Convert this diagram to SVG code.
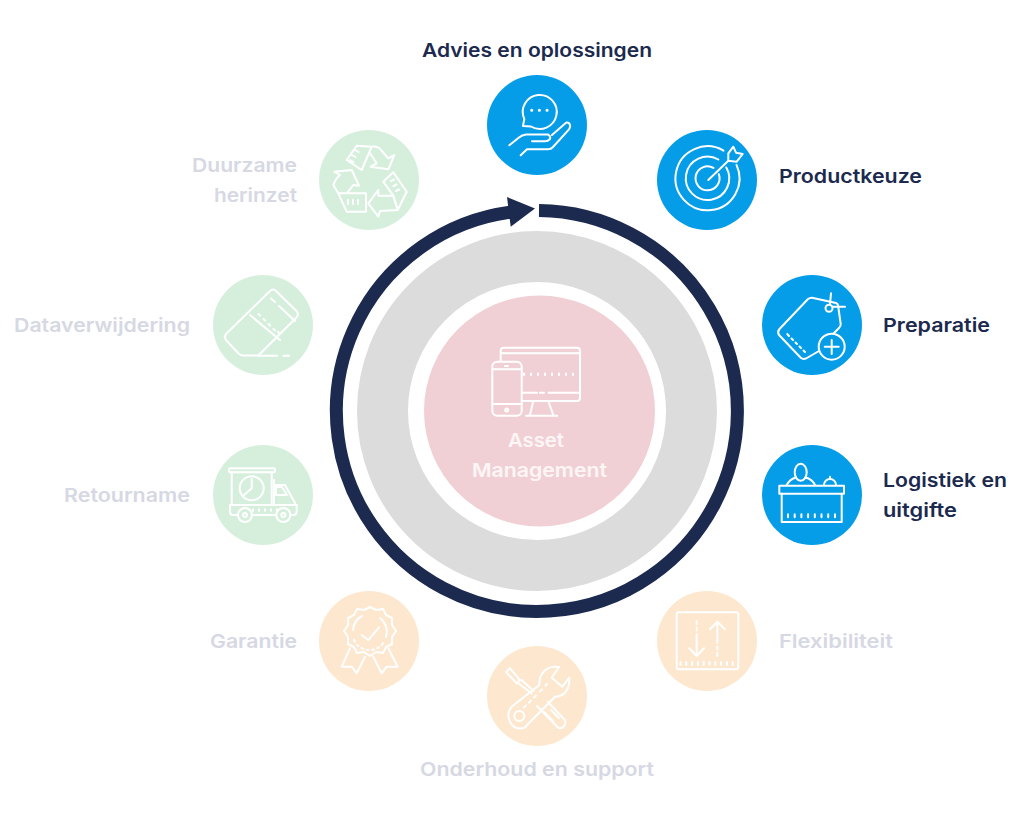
<svg xmlns="http://www.w3.org/2000/svg" width="1024" height="819" viewBox="0 0 1024 819">
<style>
.t{font-family:"Inter","Liberation Sans",sans-serif;font-weight:600;font-size:19px}
.d{fill:#1b2a4e}.f{fill:#d6d8e3}.w{fill:#fdf6f7}
.i{fill:none;stroke:#fff;stroke-width:2;stroke-linecap:round;stroke-linejoin:round}
.k{stroke-linecap:butt;stroke-width:3}
.b{fill:#069de8}.g{fill:#d6efdd}.o{fill:#fde8cf}
</style>
<rect width="1024" height="819" fill="#fff"/>
<g id="hub">
<circle cx="537" cy="411" r="154.500" fill="none" stroke="#dcdcdc" stroke-width="51"/>
<circle cx="539.500" cy="411" r="115.500" fill="#f1d0d5"/>
<g class="i">
<path d="M500.700 361V350.700a3 3 0 0 1 3-3H577a3 3 0 0 1 3 3V398a3 3 0 0 1-3 3H522M500.700 353.300H580"/>
<path class="k" d="M523 374.300H578" stroke-dasharray="2 5"/>
<path d="M522 392.700H537M540 392.700H544M548.500 392.700H580M533.300 401L530 415M548.300 401L553.300 415M526 415.700H557.300"/>
<rect x="492.300" y="361.700" width="29.400" height="54" rx="5"/>
<path d="M492.300 369.300H521.700M492.300 404H521.700M505 366H508"/>
<circle cx="506.700" cy="410" r="1.500"/>
</g>
<text class="t w" x="508" y="447" textLength="56" lengthAdjust="spacingAndGlyphs">Asset</text>
<text class="t w" x="472" y="477" textLength="135" lengthAdjust="spacingAndGlyphs">Management</text>
</g>
<g id="connectors">
<path d="M539 210.500A200.500 200.500 0 1 1 510 212.300" fill="none" stroke="#1b2a4e" stroke-width="13"/>
<path d="M535 208.500L507 197L510.700 226.700Z" fill="#1b2a4e"/>
</g>
<g id="advies">
<circle class="b" cx="537" cy="125" r="50"/>
<g class="i">
<path d="M523 126L524.300 119A17 17 0 1 1 531 126.500Z"/>
<path d="M531.700 110.300h.1M539.300 110.300h.1M547 110.300h.1" stroke-width="3"/>
<path d="M509.300 145.300L519 137.500Q522 135 526 134.500H548Q551 136 550 139Q548 141.300 545 141.300H532M552 135L566 122.700Q569 122 570 125Q570.500 127 569 129.300L553 147Q551 149.300 548 149.300H527L520.700 155.300"/>
</g>
<text class="t d" x="422" y="57" textLength="230" lengthAdjust="spacingAndGlyphs">Advies en oplossingen</text>
</g>
<g id="productkeuze">
<circle class="b" cx="707" cy="180" r="50"/>
<g class="i">
<path d="M723.500 150.600A32 32 0 1 0 736.500 164.800"/>
<path d="M718.350 159.500A21.700 21.700 0 1 0 726.300 167.450"/>
<path d="M713.500 167.900A12 12 0 1 0 718.800 174.200"/>
<path d="M708.300 180L728.300 160.700M728.300 160.700L728.300 153.300L733.300 146.700L736 152.700L742.700 154L736.700 161.700Z"/>
</g>
<text class="t d" x="779" y="183" textLength="143" lengthAdjust="spacingAndGlyphs">Productkeuze</text>
</g>
<g id="preparatie">
<circle class="b" cx="812" cy="325" r="50"/>
<g class="i">
<path d="M819 351L806 358.500Q803 359.500 801 358L779 335Q777 332 779.500 329L808 299Q810 297.500 812 297.700L836 303Q837.500 303.500 838 305L840.700 324Q841 326 839 328L833 334"/>
<circle cx="829" cy="308.300" r="3.500"/>
<path d="M831 293.300L830 304M833 306.700H845"/>
<path d="M787.300 334L789 336M791.500 338.500L793 340M795.500 342.500L797 344M799.500 346.500L801 348M803.500 350.500L805 352"/>
<circle cx="831.700" cy="346.700" r="13" fill="#069de8"/>
<path d="M831.700 340V354M824.700 346.700H838.700"/>
</g>
<text class="t d" x="883" y="332" textLength="107" lengthAdjust="spacingAndGlyphs">Preparatie</text>
</g>
<g id="logistiek">
<circle class="b" cx="812" cy="495" r="50"/>
<g class="i">
<ellipse cx="800.700" cy="472.300" rx="6" ry="8.500"/>
<path d="M786.700 485Q790 479 796 477.500M805.500 477.500Q812 479 815 485M824 485A6 6 0 0 1 836 485M830 479V476.700"/>
<rect x="779.300" y="485.700" width="64.700" height="8"/>
<path d="M781.700 493.700V522H841.700V493.700"/>
<path d="M788 514.200V517.200M794.700 514.200V517.200M801.400 514.200V517.200M808.100 514.200V517.200M814.800 514.200V517.200M821.500 514.200V517.200M828.200 514.200V517.200M835 514.200V517.200"/>
</g>
<g><text class="t d" x="883" y="487" textLength="124" lengthAdjust="spacingAndGlyphs">Logistiek en</text>
<text class="t d" x="883" y="517" textLength="74" lengthAdjust="spacingAndGlyphs">uitgifte</text></g>
</g>
<g id="flexibiliteit">
<circle class="o" cx="707" cy="641" r="50"/>
<g class="i">
<rect x="676.700" y="612.300" width="61.600" height="57" rx="2"/>
<path d="M680.500 662V665M686.300 662V665M692.100 662V665M697.900 662V665M703.700 662V665M709.500 662V665M715.300 662V665M721.100 662V665M726.900 662V665M732.700 662V665"/>
<path d="M696.700 621V637" stroke-dasharray="3 3.500"/>
<path d="M696.700 637V656M689.300 648.300L696.700 656L704 648.300"/>
<path d="M717.300 621.700V640M710 629.300L717.300 621.700L725 629.300"/>
<path d="M717.300 640V656" stroke-dasharray="3 3.500"/>
</g>
<text class="t f" x="779" y="648" textLength="114" lengthAdjust="spacingAndGlyphs">Flexibiliteit</text>
</g>
<g id="onderhoud">
<circle class="o" cx="537" cy="696" r="50"/>
<g class="i">
<path d="M559 667C548 665 539 672 539.300 685L511.700 706.700C504 716 511 729 521 728.500C524 728.300 526 727 527 725L555 696.700C565 697 570 688 569.300 677.700L562.300 686.700L551.700 677.700Z"/>
<circle cx="519.300" cy="716" r="5"/>
<path d="M506 672L510 668.300L520 680L516.700 683.300ZM518 683L531.700 693.500M521.700 680L533.500 691M537 706L558 727.500Q561 729.500 564 726Q566.500 723 564.500 719.500L548 702"/>
<path d="M551 710L559 718M544 712L553 721"/>
<path d="M524 707.500L526 705.500M529 702.500L531 700.500M534 697.500L536 695.500M540 691.500L542 689.500M545.500 685.500L547 684"/>
</g>
<text class="t f" x="420" y="776" textLength="234" lengthAdjust="spacingAndGlyphs">Onderhoud en support</text>
</g>
<g id="garantie">
<circle class="o" cx="369" cy="641" r="50"/>
<g class="i">
<path d="M370 607L376 610L383 609L386 615L392 618L392 625L396 631L392 637L392 644L386 647L383 653L376 652L370 656L364 652L357 653L354 647L348 644L348 637L344 631L348 625L348 618L354 615L357 609L364 610Z"/>
<path d="M380 618A17 17 0 0 1 386 637" />
<path d="M362 616A17 17 0 0 0 353 630"/>
<path d="M354 640A17 17 0 0 0 384 642" stroke-dasharray="2 3.500"/>
<path d="M361.700 635L368.300 640L379 627.300"/>
<path d="M350 648.300L341.700 666.700H351.700L356.700 673.300L365 656.700M373.300 656.700L381.700 673.300L386.700 666.700H397.700L388.300 648.300"/>
</g>
<text class="t f" x="210" y="648" textLength="87" lengthAdjust="spacingAndGlyphs">Garantie</text>
</g>
<g id="retourname">
<circle class="g" cx="263" cy="495" r="50"/>
<g class="i">
<rect x="229" y="468.300" width="46" height="4" rx="1"/>
<path d="M231.700 472.300V505M271.700 472.300V505"/>
<circle cx="251.700" cy="488.300" r="12"/>
<path d="M251.700 479V488.300L244 495"/>
<path d="M274 480V505M274 485H285L295 503V505M276 487H282L287 495H276Z"/>
<path d="M230 505H296.700V511Q296.700 515 293 515H291M275.500 515H253M237.500 515H233Q230 515 230 511V505"/>
<circle cx="245" cy="515" r="7"/><circle cx="245" cy="515" r="2"/>
<circle cx="283.300" cy="515" r="7"/><circle cx="283.300" cy="515" r="2"/>
<path class="k" d="M252 510H278" stroke-dasharray="2 4"/>
</g>
<text class="t f" x="64" y="502" textLength="126" lengthAdjust="spacingAndGlyphs">Retourname</text>
</g>
<g id="dataverwijdering">
<circle class="g" cx="263" cy="325" r="50"/>
<g class="i">
<path d="M258.300 355.500H243Q240 355.500 238 353L226 340Q224 337 226 334L270 291Q273 288 276 291L296.500 311Q299 314 297 317Z"/>
<path d="M250 315L280 340"/>
<path d="M258.500 314L260 315.500M263.500 319L265 320.500M268.500 324L270 325.500M273.500 329L275 330.500M278 332L279.500 333.500"/>
<path d="M271 298.500L275 302M279 306L295 321"/>
<path d="M258 355.700H277M283.300 355.700H289"/>
</g>
<text class="t f" x="14" y="332" textLength="176" lengthAdjust="spacingAndGlyphs">Dataverwijdering</text>
</g>
<g id="duurzame">
<circle class="g" cx="369" cy="180" r="50"/>
<g class="i">
<path d="M356.700 145.700L371.700 146.700L361.700 170L346.700 160Z"/>
<path d="M352 155L355.500 157M350 160L353.500 162M355 150L358.500 152"/>
<path d="M373 146.500Q378 146 381 150L388.300 158.300L394.300 155L388.300 169.300L370.700 166.700L376.700 163.300L370 153.300"/>
<path d="M383.300 181.700L393.300 172.300L406.700 191.700L397.700 210L393.300 195.700Z"/>
<path d="M391 181L394 179.500M393.500 186L396.500 184.500M396 191L399 189.500"/>
<path d="M368.300 203.300L378.300 190V195.700H393.300L397.700 210L380 211L378.300 216.700Z"/>
<path d="M338.300 193.300H366V211.700H346.700Z"/>
<path d="M348 200V204M353 200V204M358 200V204"/>
<path d="M338.300 193.300L333.300 185Q336 178 340 175L334.300 171.700L351.700 170L359 185.700L353.300 185L346.700 193.300"/>
</g>
<g><text class="t f" x="192" y="172" textLength="105" lengthAdjust="spacingAndGlyphs">Duurzame</text>
<text class="t f" x="214" y="202" textLength="83" lengthAdjust="spacingAndGlyphs">herinzet</text></g>
</g>
</svg>
